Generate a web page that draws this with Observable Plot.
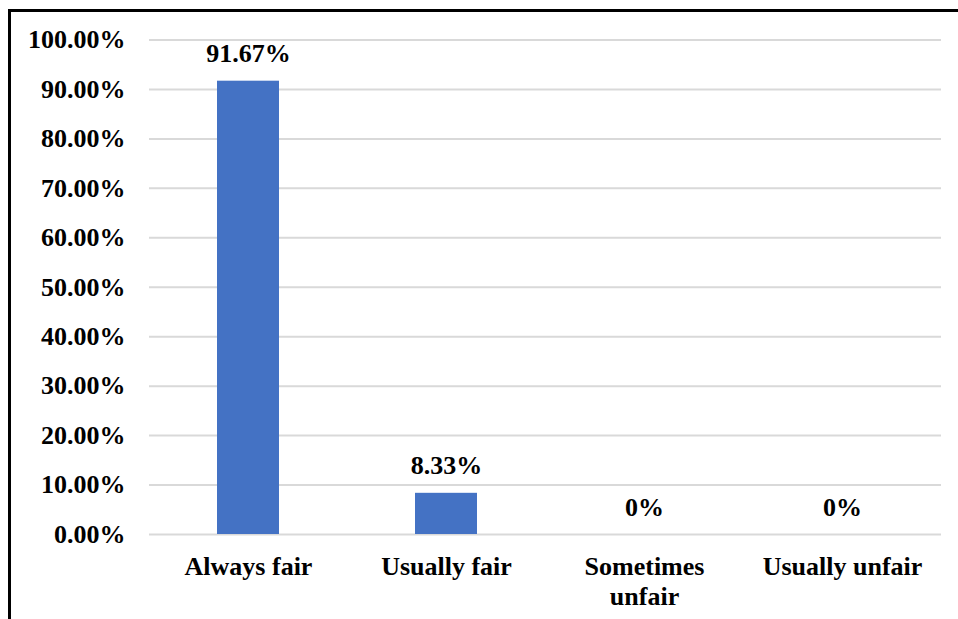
<!DOCTYPE html>
<html>
<head>
<meta charset="utf-8">
<script src="https://cdn.jsdelivr.net/npm/d3@7"></script>
<script src="https://cdn.jsdelivr.net/npm/@observablehq/plot@0.6"></script>
<style>
  html, body { margin: 0; padding: 0; background: #fff; }
  #wrap { position: relative; width: 958px; height: 619px; overflow: hidden; }
  #border { position: absolute; left: 8px; top: 9px; width: 2000px; height: 2000px;
            border-top: 3px solid #000; border-left: 3px solid #000; }
  #chart { position: absolute; left: 0; top: 0; }
</style>
</head>
<body>
<div id="wrap"><div id="border"></div><div id="chart"></div></div>
<script>
const categories = ["Always fair", "Usually fair", "Sometimes unfair", "Usually unfair"];
const values = [0.9167, 0.0833, 0, 0];
const valueLabels = ["91.67%", "8.33%", "0%", "0%"];
const xTickLabels = ["Always fair", "Usually fair", "Sometimes\nunfair", "Usually unfair"];
const yTicks = [0, 0.1, 0.2, 0.3, 0.4, 0.5, 0.6, 0.7, 0.8, 0.9, 1.0];

const data = categories.map((c, i) => ({category: c, value: values[i], label: valueLabels[i]}));
const tickMap = new Map(categories.map((c, i) => [c, xTickLabels[i]]));

const font = "'Liberation Serif', 'Times New Roman', serif";

const chart = Plot.plot({
  width: 958,
  height: 619,
  marginLeft: 149,
  marginRight: 17,
  marginTop: 39.5,
  marginBottom: 85,
  style: {fontFamily: font, fontSize: "26px", fontWeight: "bold", color: "#000", background: "transparent", overflow: "visible"},
  x: {domain: categories, paddingInner: 0.687, paddingOuter: 0.3435, label: null},
  y: {domain: [0, 1], label: null},
  marks: [
    Plot.gridY(yTicks, {stroke: "#d9d9d9", strokeOpacity: 1, strokeWidth: 2}),
    Plot.barY(data, {x: "category", y: "value", fill: "#4472C4"}),
    Plot.text(data, {x: "category", y: "value", text: "label", lineAnchor: "bottom", dy: -19,
      fontSize: 26, fontWeight: "bold", fill: "#000"}),
    Plot.axisY(yTicks, {tickSize: 0, tickPadding: 24, tickFormat: d => (d * 100).toFixed(2) + "%",
      fontSize: 26, fontWeight: "bold", fill: "#000", label: null}),
    Plot.axisX({tickSize: 0, tickPadding: 19, tickFormat: d => tickMap.get(d),
      fontSize: 26, fontWeight: "bold", fill: "#000", lineHeight: 1.15, label: null})
  ]
});
document.getElementById("chart").appendChild(chart);
</script>
</body>
</html>
